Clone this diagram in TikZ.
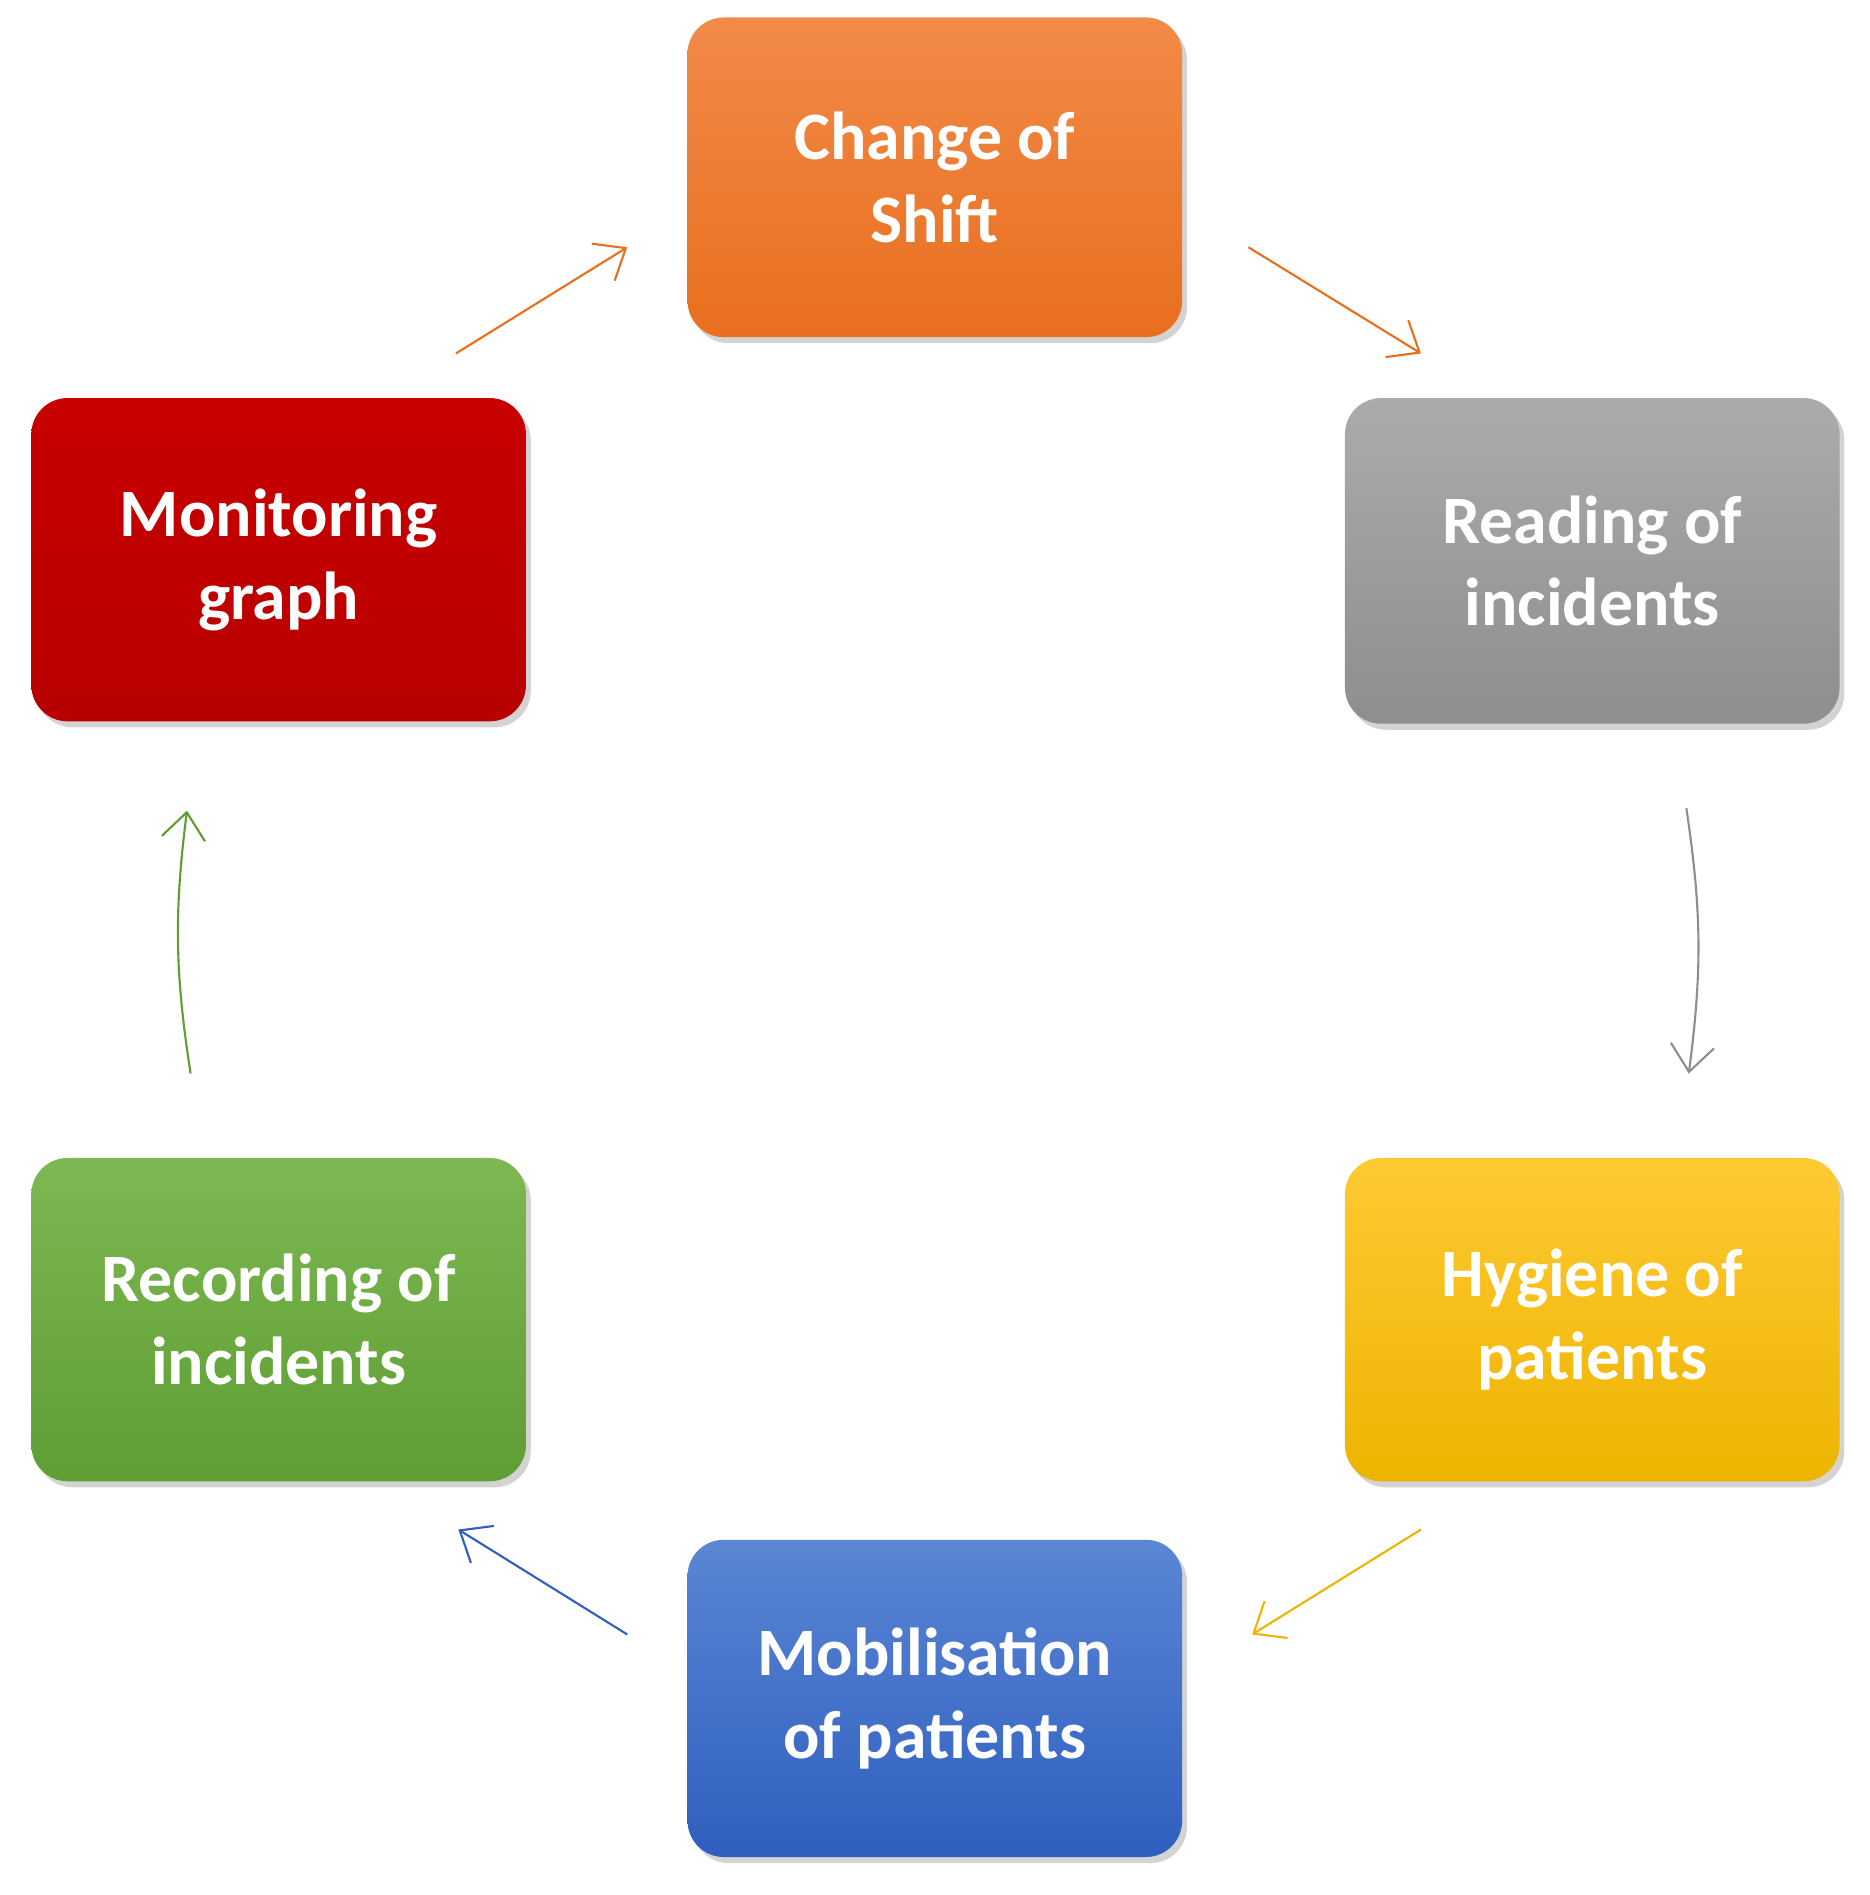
\documentclass[tikz,border=0pt]{standalone}
\usepackage{fontspec}
\setmainfont{Carlito}
\usetikzlibrary{shadows,arrows.meta}
\definecolor{o1}{HTML}{F28A48}\definecolor{o2}{HTML}{E86F1E}
\definecolor{g1}{HTML}{ABABAB}\definecolor{g2}{HTML}{8E8E8E}
\definecolor{y1}{HTML}{FFC933}\definecolor{y2}{HTML}{EDB400}
\definecolor{b1}{HTML}{5A86D4}\definecolor{b2}{HTML}{2F5FBF}
\definecolor{gr1}{HTML}{7DB852}\definecolor{gr2}{HTML}{5E9E33}
\definecolor{r1}{HTML}{C80000}\definecolor{r2}{HTML}{B80000}
\tikzset{
 box/.style={rounded corners=0.3cm, minimum width=4.1cm, minimum height=2.65cm, align=center,
   text=white, font=\bfseries\fontsize{16}{19.5}\selectfont, drop shadow={opacity=0.35,shadow xshift=0.04cm,shadow yshift=-0.05cm}},
 arr/.style={-{Straight Barb[length=2.2mm,width=3.6mm]}, line width=0.5pt}
}
\begin{document}
\begin{tikzpicture}
\useasboundingbox (0,0) rectangle (15.5,-15.71);
\node[box, top color=o1, bottom color=o2] (cs) at (7.75,-1.47) {Change of\\Shift};
\node[box, top color=g1, bottom color=g2, minimum height=2.7cm] (ri) at (13.2,-4.65) {Reading of\\incidents};
\node[box, top color=y1, bottom color=y2, minimum height=2.68cm] (hp) at (13.2,-10.94) {Hygiene of\\patients};
\node[box, top color=b1, bottom color=b2, minimum height=2.63cm] (mp) at (7.75,-14.08) {Mobilisation\\of patients};
\node[box, top color=gr1, bottom color=gr2, minimum height=2.68cm] (rc) at (2.31,-10.94) {Recording of\\incidents};
\node[box, top color=r1, bottom color=r2, minimum height=2.68cm] (mg) at (2.31,-4.64) {Monitoring\\graph};
\coordinate (a1) at (3.78,-2.93); \coordinate (a2) at (5.2,-2.05);
\coordinate (b1) at (10.35,-2.05); \coordinate (b2) at (11.78,-2.93);
\coordinate (c1) at (13.98,-6.7); \coordinate (c2) at (14.0,-8.9);
\coordinate (d1) at (11.78,-12.68); \coordinate (d2) at (10.38,-13.55);
\coordinate (e1) at (5.2,-13.55); \coordinate (e2) at (3.8,-12.68);
\coordinate (f1) at (1.58,-8.9); \coordinate (f2) at (1.55,-6.72);
\draw[arr, o2] (a1) -- (a2);
\draw[arr, o2] (b1) -- (b2);
\draw[arr, g2] (c1) to[bend left=8] (c2);
\draw[arr, y2] (d1) -- (d2);
\draw[arr, b2] (e1) -- (e2);
\draw[arr, gr2] (f1) to[bend left=8] (f2);
\end{tikzpicture}
\end{document}
